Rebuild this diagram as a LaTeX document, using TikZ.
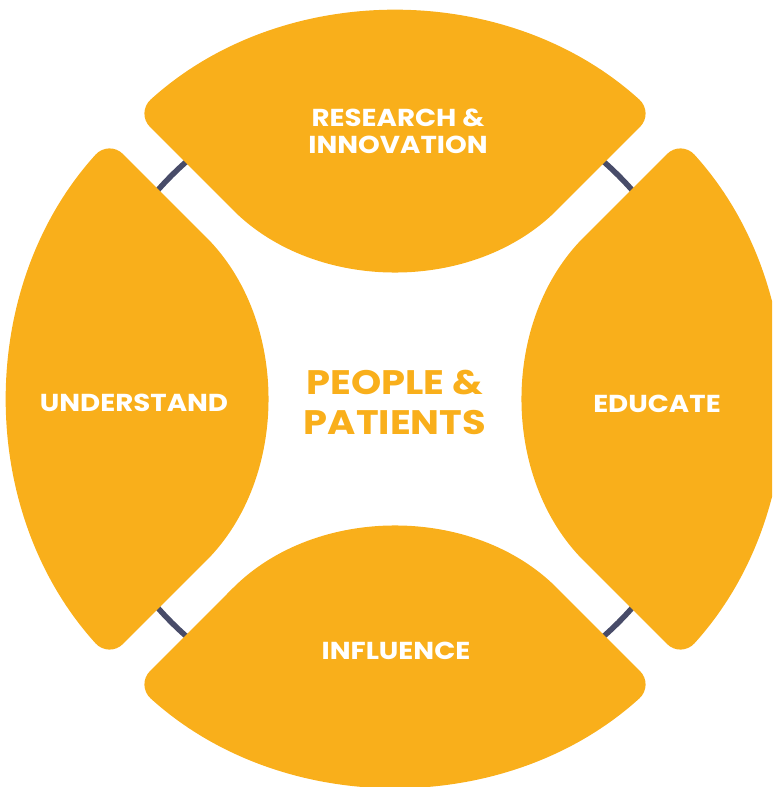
\documentclass[tikz,border=0pt]{standalone}
\usepackage{fontspec}
\setmainfont{Poppins}[FakeStretch=1.13]
\usepackage{tikz}
\usetikzlibrary{positioning}
\definecolor{buoyorange}{HTML}{F9AF1B}
\definecolor{ropegray}{HTML}{484C69}

\begin{document}
\begin{tikzpicture}[x=1pt, y=1pt,
    segment/.style={fill=buoyorange, rounded corners=20pt},
    segtext/.style={text=white, font=\bfseries\fontsize{24.5}{26.7}\selectfont,
        align=center, inner sep=0pt}]
    \useasboundingbox (-395,-388) rectangle (377,399);
    \clip (-395,-388) rectangle (377,399);
    % rope under the four pieces
    \draw[ropegray, line width=5.5pt] (0,0) circle (316);
    \foreach \a in {0,90,180,270}
        \fill[segment, rotate=\a] (-217.47,244.47) -- (132.16:386)
            arc[start angle=132.16, end angle=47.84, radius=386]
            -- (175.83,202.83)
            arc[start angle=-45, end angle=-135, radius=248.66] -- cycle;
    \node[segtext] (research) at (3,268) {RESEARCH \&\\INNOVATION};
    \node[segtext] (understand) at (-261,-4) {UNDERSTAND};
    \node[segtext] (educate) at (262,-5) {EDUCATE};
    \node[segtext] (influence) at (1,-252) {INFLUENCE};
    \node[segtext, text=buoyorange, font=\bfseries\fontsize{34}{40}\selectfont]
        (people) at (0,-3) {PEOPLE \&\\PATIENTS};
\end{tikzpicture}
\end{document}
